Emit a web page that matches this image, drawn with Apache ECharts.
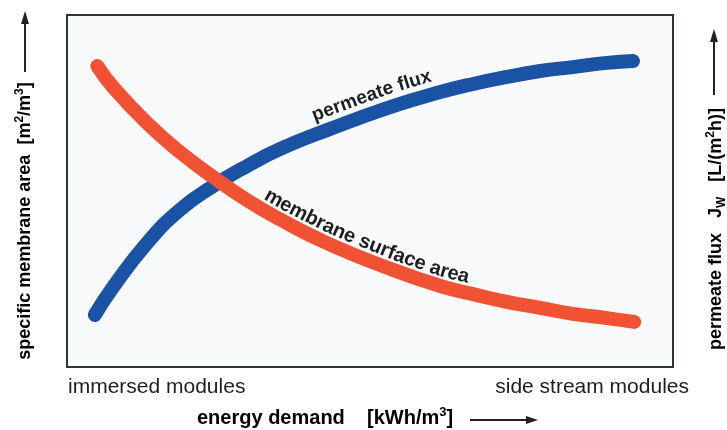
<!DOCTYPE html>
<html><head><meta charset="utf-8">
<script src="https://cdn.jsdelivr.net/npm/echarts@6/dist/echarts.min.js"></script>
<style>html,body{margin:0;padding:0;background:#fff}#c{width:727px;height:430px}</style>
</head><body><div id="c"></div>
<script>
// Data (normalised 0-100 on both axes; curves are schematic)
const fluxX = [4.6, 7.6, 13.2, 18.6, 24.1, 29.7, 35.1, 42.9, 53.8, 61.6, 67.0, 72.6, 78.1, 83.5, 89.1, 93.4];
const fluxY = [14.8, 22.7, 35.2, 44.6, 51.4, 57.1, 61.9, 67.3, 74.1, 78.1, 80.4, 82.4, 84.1, 85.2, 86.4, 86.9];
const areaX = [5.0, 7.6, 13.2, 18.6, 24.1, 29.7, 35.1, 42.9, 53.8, 61.6, 67.0, 72.6, 78.1, 83.5, 89.1, 93.6];
const areaY = [85.5, 79.5, 69.3, 61.1, 54.0, 47.4, 42.0, 35.2, 27.6, 23.0, 20.7, 18.5, 16.8, 15.1, 13.9, 12.8];
const seriesNames = ['permeate flux', 'membrane surface area'];
const endLabels = ['immersed modules', 'side stream modules'];

const fluxData = fluxX.map((x, i) => [x, fluxY[i]]);
const areaData = areaX.map((x, i) => [x, areaY[i]]);

const chart = echarts.init(document.getElementById('c'), null, {renderer: 'canvas'});
const TXT = '#1d1f1f';
const FONT = '"Liberation Sans", Arial, sans-serif';

chart.setOption({
  animation: false,
  backgroundColor: '#ffffff',
  grid: {left: 67, top: 15, width: 606, height: 352, show: true,
         backgroundColor: '#f9fafc', borderColor: '#2d3632', borderWidth: 2},
  xAxis: {type: 'value', min: 0, max: 100, show: false},
  yAxis: {type: 'value', min: 0, max: 100, show: false},
  series: [
    {name: seriesNames[0], type: 'line', data: fluxData, smooth: 0.5, symbol: 'none',
     lineStyle: {color: '#1b53a4', width: 14, cap: 'round', join: 'round'}, z: 3},
    {name: seriesNames[1], type: 'line', data: areaData, smooth: 0.5, symbol: 'none',
     lineStyle: {color: '#f05233', width: 14, cap: 'round', join: 'round'}, z: 4}
  ]
});

// curved label placed character by character along a series path
const mctx = document.createElement('canvas').getContext('2d');
function curvedText(data, text, startX, offset, size) {
  const pts = data.map(d => chart.convertToPixel({gridIndex: 0}, d));
  const cum = [0];
  for (let i = 1; i < pts.length; i++) {
    cum.push(cum[i - 1] + Math.hypot(pts[i][0] - pts[i - 1][0], pts[i][1] - pts[i - 1][1]));
  }
  function at(s) {
    let i = 1;
    while (i < pts.length - 1 && cum[i] < s) i++;
    const a = pts[i - 1], b = pts[i];
    const L = cum[i] - cum[i - 1];
    const t = (s - cum[i - 1]) / L;
    const dx = (b[0] - a[0]) / L, dy = (b[1] - a[1]) / L;
    let tx = dx, ty = dy;
    const j = t < 0.5 ? i - 1 : i + 1;
    if (j >= 1 && j < pts.length) {
      const a2 = pts[j - 1], b2 = pts[j];
      const L2 = Math.hypot(b2[0] - a2[0], b2[1] - a2[1]);
      const w = 0.5 - Math.abs(t - 0.5);
      const k = 0.5 - w;
      tx = dx * (1 - k) + (b2[0] - a2[0]) / L2 * k;
      ty = dy * (1 - k) + (b2[1] - a2[1]) / L2 * k;
      const n = Math.hypot(tx, ty); tx /= n; ty /= n;
    }
    return {x: a[0] + (b[0] - a[0]) * t, y: a[1] + (b[1] - a[1]) * t, dx: tx, dy: ty};
  }
  const sx = chart.convertToPixel({gridIndex: 0}, [startX, 0])[0];
  let s0 = 0;
  for (let i = 1; i < pts.length; i++) {
    if (pts[i][0] >= sx) {
      const t = (sx - pts[i - 1][0]) / (pts[i][0] - pts[i - 1][0]);
      s0 = cum[i - 1] + t * (cum[i] - cum[i - 1]);
      break;
    }
  }
  const font = 'bold ' + size + 'px ' + FONT;
  mctx.font = font;
  const els = [];
  let s = s0;
  for (const ch of text) {
    const w = mctx.measureText(ch).width;
    const p = at(s + w / 2);
    const nx = p.dy, ny = -p.dx;
    els.push({type: 'text', x: p.x + nx * offset, y: p.y + ny * offset,
      rotation: -Math.atan2(p.dy, p.dx), z: 10,
      style: {text: ch, font: font, fill: TXT, align: 'center', verticalAlign: 'middle'}});
    s += w;
  }
  return els;
}

const rich = {
  b: {fontSize: 18, fontWeight: 'bold', fontFamily: FONT, color: TXT, lineHeight: 23},
  sup: {fontSize: 12, fontWeight: 'bold', fontFamily: FONT, color: TXT, lineHeight: 13, verticalAlign: 'top'},
  sub: {fontSize: 12, fontWeight: 'bold', fontFamily: FONT, color: TXT, lineHeight: 12, verticalAlign: 'bottom'}
};
const richX = {
  b: {fontSize: 20, fontWeight: 'bold', fontFamily: FONT, color: TXT, lineHeight: 24},
  sup: {fontSize: 13, fontWeight: 'bold', fontFamily: FONT, color: TXT, lineHeight: 13, verticalAlign: 'top'}
};

const graphics = [
  {type: 'text', x: 68, y: 387, style: {text: endLabels[0], font: '21px ' + FONT, fill: TXT, align: 'left', verticalAlign: 'middle'}},
  {type: 'text', x: 689, y: 387, style: {text: endLabels[1], font: '21px ' + FONT, fill: TXT, align: 'right', verticalAlign: 'middle'}},
  {type: 'text', x: 197, y: 418, style: {text: '{b|energy demand    [kWh/m}{sup|3}{b|]}', rich: richX, align: 'left', verticalAlign: 'middle'}},
  {type: 'line', shape: {x1: 470, y1: 420, x2: 528, y2: 420}, style: {stroke: '#222', lineWidth: 2}},
  {type: 'polygon', shape: {points: [[538, 420], [526, 416], [526, 424]]}, style: {fill: '#222'}},
  {type: 'text', x: 25, y: 221, rotation: Math.PI / 2,
   style: {text: '{b|specific membrane area  [m}{sup|2}{b|/m}{sup|3}{b|]}', rich: rich, align: 'center', verticalAlign: 'middle'}},
  {type: 'line', shape: {x1: 25, y1: 72, x2: 25, y2: 22}, style: {stroke: '#222', lineWidth: 2}},
  {type: 'polygon', shape: {points: [[25, 11], [21, 24], [29, 24]]}, style: {fill: '#222'}},
  {type: 'text', x: 716, y: 229, rotation: Math.PI / 2,
   style: {text: '{b|permeate flux   J}{sub|W}{b|   [L/(m}{sup|2}{b|h)]}', rich: rich, align: 'center', verticalAlign: 'middle'}},
  {type: 'line', shape: {x1: 714, y1: 95, x2: 714, y2: 40}, style: {stroke: '#222', lineWidth: 2}},
  {type: 'polygon', shape: {points: [[714, 29], [710, 42], [718, 42]]}, style: {fill: '#222'}}
].concat(
  curvedText(fluxData, seriesNames[0], 41.6, 18, 19),
  curvedText(areaData, seriesNames[1], 31.6, 15, 20)
);

chart.setOption({graphic: graphics});
</script></body></html>
